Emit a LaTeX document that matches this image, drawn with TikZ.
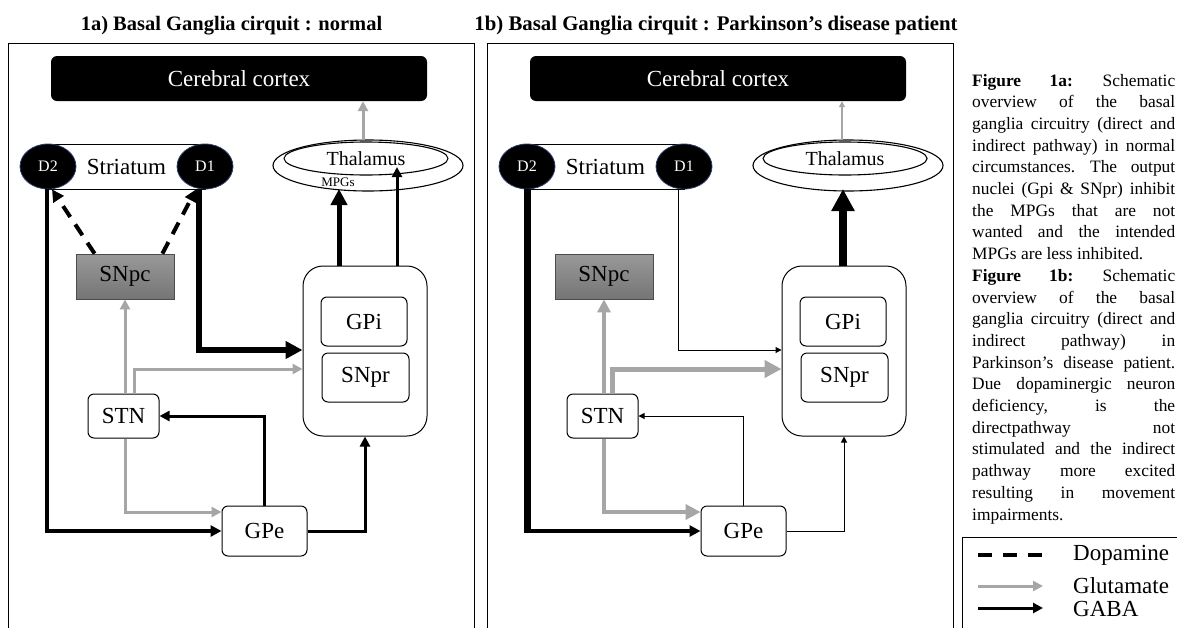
\documentclass[tikz,border=0pt]{standalone}
\usepackage{fontspec}
\setmainfont{Liberation Serif}
\usetikzlibrary{arrows.meta,calc,shapes.geometric}
\definecolor{glu}{HTML}{A6A6A6}
\definecolor{dblue}{HTML}{2E3F6E}
\newcommand\lblf{\fontsize{23}{26}\selectfont}
\newcommand\capf{\fontsize{17.4}{21.7}\selectfont}
\newcommand\hs{\hspace{0pt plus 1fil}}
\newcommand\capline[1]{\hbox to 203pt{#1}}
\tikzset{
  lbl/.style={font=\lblf, inner sep=0pt},
  rbox/.style={draw, line width=1pt, rounded corners=6pt, fill=white, inner sep=0pt, font=\lblf},
  cortexbox/.style={fill=black, text=white, rounded corners=6pt, minimum width=376pt, minimum height=45pt, inner sep=0pt, font=\lblf},
  strbox/.style={draw, line width=1pt, minimum width=157pt, minimum height=45pt, inner sep=0pt, font=\lblf},
  dnode/.style={ellipse, fill=black, draw=dblue, line width=0.8pt, minimum width=56pt, minimum height=45pt, inner sep=0pt, text=white, font=\fontsize{16}{18}\selectfont},
  thalo/.style={ellipse, draw, line width=1.1pt, minimum width=190pt, minimum height=51pt, inner sep=0pt},
  thali/.style={ellipse, draw, line width=1.1pt, minimum width=164pt, minimum height=33pt, inner sep=0pt, font=\fontsize{20}{22}\selectfont},
  snpcbox/.style={draw=black!70, line width=0.8pt, top color=black!40, bottom color=black!54, minimum width=98pt, minimum height=45pt, inner sep=0pt, font=\lblf},
  blkbox/.style={draw, line width=1pt, rounded corners=20pt, minimum width=124pt, minimum height=170pt, inner sep=0pt},
  ar/.style={-{Triangle[length=#1, width=#1]}},
  gaba/.style={color=black},
  glut/.style={color=glu},
  dopa/.style={color=black, dash pattern=on 13pt off 9pt},
  frame/.style={draw, line width=1pt},
}
\begin{document}
\begin{tikzpicture}[x=1pt,y=-1pt]
\useasboundingbox[fill=white] (0,0) rectangle (1177,627);

% titles
\node[anchor=base, font=\fontsize{20.5}{24}\selectfont\bfseries, inner sep=0pt] (titleA) at (231.5,30) {1a) Basal Ganglia cirquit : normal};
\node[anchor=base, font=\fontsize{20.8}{24}\selectfont\bfseries, inner sep=0pt] (titleB) at (716,30) {1b) Basal Ganglia cirquit : Parkinson’s disease patient};

% frames
\draw[frame] (8,640) -- (8,43) -- (474,43) -- (474,640);
\draw[frame] (487,640) -- (487,43) -- (953,43) -- (953,640);

% ---------- panel a ----------
\node[cortexbox] (aCortex) at (239,78.5) {Cerebral cortex};
\node[strbox] (aStr) at (126.5,166.5) {Striatum};
\node[dnode] (aD2) at (48,166.5) {D2};
\node[dnode] (aD1) at (205,166.5) {D1};
\node[thalo] (aThalO) at (368,165.5) {};
\node[thali] (aThal) at (366,158.5) {Thalamus};
\node[font=\fontsize{13}{14}\selectfont, inner sep=0pt] (aMPG) at (338,182) {MPGs};
\node[snpcbox] (aSNpc) at (125,276.5) {SNpc};
\node[blkbox] (aBlk) at (365,351) {};
\node[rbox, minimum width=86pt, minimum height=49pt] (aGPi) at (364,321.5) {GPi};
\node[rbox, minimum width=87pt, minimum height=49pt] (aSNpr) at (365.5,377.5) {SNpr};
\node[rbox, minimum width=71pt, minimum height=44pt] (aSTN) at (123.5,416) {STN};
\node[rbox, minimum width=85pt, minimum height=50pt] (aGPe) at (264.5,531) {GPe};
\coordinate (aTtop) at (363,140);
\coordinate (aT1) at (339,189);
\coordinate (aT2) at (397,167);

\draw[glut, line width=3pt, ar=10pt] (aTtop) -- (aTtop |- aCortex.south);
\draw[dopa, line width=4pt, ar=12pt] ($(aSNpc.north west)+(19,0)$) -- ($(aD2.south)+(4,0)$);
\draw[dopa, line width=4pt, ar=12pt] ($(aSNpc.north east)+(-12,0)$) -- ($(aD1.south)+(-9,0)$);
\draw[gaba, line width=3.5pt, ar=11pt] ($(aD2.south)+(-1,0)$) |- (aGPe.west);
\draw[gaba, line width=6pt, ar=17pt] ($(aD1.south)+(-6,0)$) |- ($(aBlk.west)+(0,-1)$);
\draw[glut, line width=3pt, ar=10pt] (aSTN.north -| aSNpc.south) -- (aSNpc.south);
\draw[glut, line width=3pt, ar=10pt] ($(aSTN.north)+(10.5,0)$) |- ($(aBlk.west)+(0,18)$);
\draw[glut, line width=3pt, ar=10pt] ($(aSTN.south)+(1.5,0)$) |- ($(aGPe.west)+(0,-19)$);
\draw[gaba, line width=3pt, ar=10pt] (aGPe.north) |- (aSTN.east);
\draw[gaba, line width=3pt, ar=10pt] (aGPe.east) -| (aBlk.south);
\draw[gaba, line width=5pt, ar=16pt] (aBlk.north -| aT1) -- (aT1);
\draw[gaba, line width=3pt, ar=10pt] (aBlk.north -| aT2) -- (aT2);

% ---------- panel b ----------
\begin{scope}[xshift=479pt]
\node[cortexbox] (bCortex) at (239,78.5) {Cerebral cortex};
\node[strbox] (bStr) at (126.5,166.5) {Striatum};
\node[dnode] (bD2) at (48,166.5) {D2};
\node[dnode] (bD1) at (205,166.5) {D1};
\node[thalo] (bThalO) at (369,165.5) {};
\node[thali] (bThal) at (366,158.5) {Thalamus};
\node[snpcbox] (bSNpc) at (125,276.5) {SNpc};
\node[blkbox] (bBlk) at (365,351) {};
\node[rbox, minimum width=86pt, minimum height=49pt] (bGPi) at (364,321.5) {GPi};
\node[rbox, minimum width=87pt, minimum height=49pt] (bSNpr) at (365.5,377.5) {SNpr};
\node[rbox, minimum width=71pt, minimum height=44pt] (bSTN) at (123.5,416) {STN};
\node[rbox, minimum width=85pt, minimum height=50pt] (bGPe) at (264.5,531) {GPe};
\coordinate (bTtop) at (363,140);
\coordinate (bT1) at (364,189);
\end{scope}

\draw[glut, line width=1.2pt, ar=6pt] (bTtop) -- (bTtop |- bCortex.south);
\draw[gaba, line width=7pt, shorten >=-2pt] (bD2.south) -- (bD2.south |- bGPe.west);
\draw[gaba, line width=3.5pt, ar=11pt] (bD2.south |- bGPe.west) -- (bGPe.west);
\draw[gaba, line width=1pt, ar=6pt] ($(bD1.south)+(-6,0)$) |- ($(bBlk.west)+(0,-1)$);
\draw[glut, line width=4pt, ar=13pt] (bSTN.north -| bSNpc.south) -- (bSNpc.south);
\draw[glut, line width=5pt, ar=17pt] ($(bSTN.north)+(10,0)$) |- ($(bBlk.west)+(0,18)$);
\draw[glut, line width=4.5pt, ar=15pt] ($(bSTN.south)+(1.5,0)$) |- ($(bGPe.west)+(0,-19)$);
\draw[gaba, line width=1pt, ar=6pt] (bGPe.north) |- (bSTN.east);
\draw[gaba, line width=1pt, ar=6pt] (bGPe.east) -| (bBlk.south);
\draw[gaba, line width=7.5pt, ar=22pt] (bBlk.north -| bT1) -- (bT1);

% ---------- caption ----------
\node[anchor=base west, inner sep=0pt] (cap) at (972,86) {\capf\vtop{%
\capline{\textbf{Figure} \hs \textbf{1a:} \hs Schematic}
\capline{overview \hs of \hs the \hs basal}
\capline{ganglia \hs circuitry \hs (direct \hs and}
\capline{indirect \hs pathway) \hs in \hs normal}
\capline{circumstances. \hs The \hs output}
\capline{nuclei \hs (Gpi \hs \& \hs SNpr) \hs inhibit}
\capline{the \hs MPGs \hs that \hs are \hs not}
\capline{wanted \hs and \hs the \hs intended}
\hbox{MPGs are less inhibited.}
\capline{\textbf{Figure} \hs \textbf{1b:} \hs Schematic}
\capline{overview \hs of \hs the \hs basal}
\capline{ganglia \hs circuitry \hs (direct \hs and}
\capline{indirect \hs pathway) \hs in}
\capline{Parkinson’s \hs disease \hs patient.}
\capline{Due \hs dopaminergic \hs neuron}
\capline{deficiency, \hs is \hs the}
\capline{directpathway \hs not}
\capline{stimulated \hs and \hs the \hs indirect}
\capline{pathway \hs more \hs excited}
\capline{resulting \hs in \hs movement}
\hbox{impairments.}}};

% ---------- legend ----------
\draw[frame] (1190,537) -- (962,537) -- (962,640);
\coordinate (lgA1) at (978,555); \coordinate (lgA2) at (1043,555);
\coordinate (lgB1) at (978,586); \coordinate (lgB2) at (1043,586);
\coordinate (lgC1) at (978,608); \coordinate (lgC2) at (1043,608);
\draw[dopa, line width=4pt, dash pattern=on 14pt off 11pt] (lgA1) -- (lgA2);
\draw[glut, line width=3pt, ar=10pt] (lgB1) -- (lgB2);
\draw[gaba, line width=3pt, ar=10pt] (lgC1) -- (lgC2);
\node[lbl, anchor=west] (lgAt) at (1073,555) {Dopamine};
\node[lbl, anchor=west] (lgBt) at (1073,586) {Glutamate};
\node[lbl, anchor=west] (lgCt) at (1073,609) {GABA};
\end{tikzpicture}
\end{document}
